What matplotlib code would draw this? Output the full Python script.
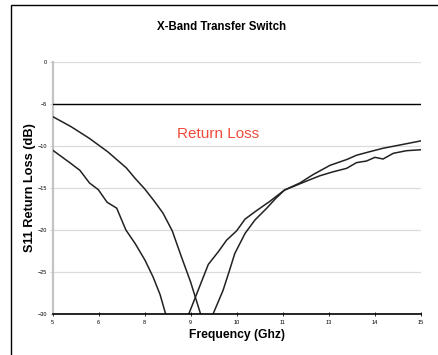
import matplotlib
matplotlib.use("Agg")
import matplotlib.pyplot as plt
from matplotlib.patches import Rectangle
import numpy as np

plt.rcParams['font.family'] = ['Liberation Sans', 'DejaVu Sans']

# Measured S11 traces (frequency in GHz, return loss in dB)
freq_a = [5.0, 5.5, 6.0, 6.5, 7.0, 7.25, 7.5, 7.75, 8.0, 8.25, 8.5, 8.75, 9.02]
s11_a = [-6.5, -7.7, -9.1, -10.7, -12.6, -13.9, -15.1, -16.5, -18.0, -20.1, -23.2, -26.2, -30.0]

freq_b = [5.0, 5.25, 5.5, 5.74, 6.0, 6.24, 6.48, 6.74, 6.99, 7.24, 7.51, 7.73, 7.92, 8.07]
s11_b = [-10.5, -11.3, -12.1, -12.9, -14.4, -15.2, -16.7, -17.4, -20.0, -21.6, -23.6, -25.6, -27.7, -30.0]

freq_c = [8.70, 9.23, 9.5, 9.73, 10.0, 10.23, 10.54, 10.9, 11.3, 11.72, 12.0, 12.26,
          12.6, 12.99, 13.26, 13.53, 13.76, 13.98, 14.26, 14.62, 15.0]
s11_c = [-30.0, -24.1, -22.6, -21.2, -20.1, -18.7, -17.7, -16.6, -15.25, -14.5, -14.0, -13.55,
         -13.1, -12.66, -11.98, -11.79, -11.35, -11.55, -10.87, -10.56, -10.45]

freq_d = [9.36, 9.63, 9.8, 9.95, 10.23, 10.5, 10.82, 11.05, 11.3, 11.72, 12.08, 12.54,
          13.0, 13.26, 13.6, 13.98, 14.44, 15.0]
s11_d = [-30.0, -27.2, -24.9, -22.8, -20.4, -18.8, -17.4, -16.3, -15.25, -14.4, -13.4, -12.3,
         -11.6, -11.1, -10.7, -10.27, -9.88, -9.4]

# Specification limit
limit_freq = [5.0, 15.0]
limit_db = [-5.0, -5.0]

y_ticks = [0, -5, -10, -15, -20, -25, -30]
x_ticks = list(np.linspace(5, 15, 9))
x_tick_labels = ["5", "6", "8", "9", "10", "11", "13", "14", "15"]

fig = plt.figure(figsize=(4.39, 3.55), dpi=100)
fig.patch.set_facecolor("white")
ax = fig.add_axes([0.120, 0.1155, 0.838, 0.7099])

ax.set_xlim(5, 15)
ax.set_ylim(-30, 0)

for yv in y_ticks[:-1]:
    ax.axhline(yv, color="#dcdcdc", lw=0.9, zorder=1)

line_kw = dict(color="#222222", lw=1.1, zorder=3)
ax.plot(limit_freq, limit_db, color="black", lw=1.0, zorder=3)
ax.plot(freq_a, s11_a, **line_kw)
ax.plot(freq_b, s11_b, **line_kw)
ax.plot(freq_c, s11_c, **line_kw)
ax.plot(freq_d, s11_d, **line_kw)

for side in ("top", "right"):
    ax.spines[side].set_visible(False)
ax.spines["left"].set_color("#c4c4c4")
ax.spines["left"].set_linewidth(1.6)
ax.spines["bottom"].set_color("black")
ax.spines["bottom"].set_linewidth(1.2)
ax.spines["bottom"].set_zorder(4)

ax.set_yticks(y_ticks)
ax.set_yticklabels([str(v).replace("-", "\u2212") for v in y_ticks])
ax.set_xticks(x_ticks)
ax.set_xticklabels(x_tick_labels)
ax.tick_params(axis="y", direction="out", length=2, width=0.6, color="#c4c4c4",
               labelsize=4, pad=2)
ax.tick_params(axis="x", direction="inout", length=3, width=0.6, color="black",
               labelsize=4, pad=3)

fig.text(221.5 / 439, 1 - 27.5 / 355, "X-Band Transfer Switch", fontsize=8.3,
         fontweight="bold", ha="center", va="center")
ax.set_xlabel("Frequency (Ghz)", fontsize=8.7, fontweight="bold", labelpad=3)
ax.set_ylabel("S11 Return Loss (dB)", fontsize=9.2, fontweight="bold")
ax.yaxis.set_label_coords(-0.046, 0.5)

ax.text(8.37, -8.6, "Return Loss", color="#f04a3a", fontsize=11, va="center", ha="left")

# Outer chart frame
fig.patches.append(Rectangle((11 / 439, -0.5), 2.0, 0.5 + 1 - 5 / 355,
                             transform=fig.transFigure, fill=False,
                             edgecolor="black", lw=1.0, clip_on=False))

fig.savefig("out.png", dpi=100, facecolor="white")
